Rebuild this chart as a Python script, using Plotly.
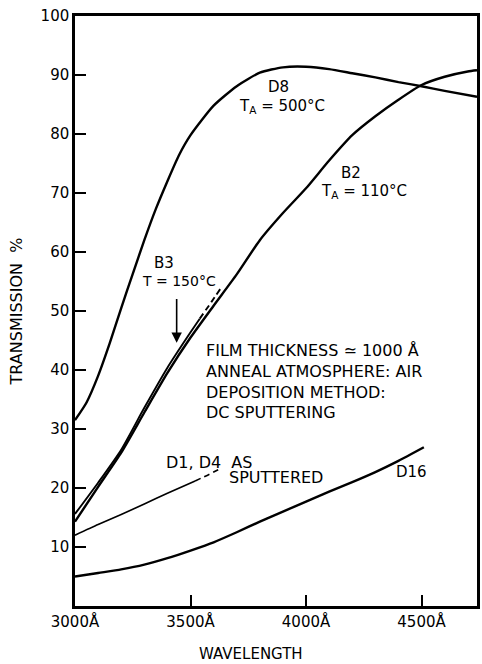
import plotly.graph_objects as go

# Optical transmission of sputtered films versus wavelength (Å)
d8_wl = [3000, 3050, 3100, 3150, 3200, 3250, 3300, 3350, 3400, 3450, 3500, 3600,
         3700, 3800, 3900, 4000, 4100, 4200, 4300, 4400, 4500, 4600, 4740]
d8_t = [31.5, 34.5, 39.0, 44.5, 50.5, 56.3, 62.0, 67.3, 72.0, 76.4, 79.8, 84.8,
        88.1, 90.4, 91.3, 91.4, 91.0, 90.3, 89.6, 88.8, 88.1, 87.3, 86.3]

b2_wl = [3000, 3100, 3200, 3300, 3400, 3500, 3600, 3700, 3800, 3900, 4000, 4100,
         4200, 4300, 4400, 4500, 4600, 4700, 4740]
b2_t = [14.3, 20.2, 26.0, 32.8, 39.5, 45.5, 50.9, 56.2, 62.0, 66.6, 70.8, 75.5,
        79.8, 83.0, 85.8, 88.3, 89.7, 90.6, 90.8]

b3_wl = [3000, 3100, 3200, 3300, 3400, 3500, 3540]
b3_t = [15.6, 20.9, 26.5, 33.6, 40.4, 46.4, 48.7]
b3_ext_wl = [3540, 3590, 3630]
b3_ext_t = [48.7, 51.5, 53.8]

d14_wl = [3000, 3100, 3200, 3300, 3400, 3520]
d14_t = [12.0, 13.8, 15.5, 17.3, 19.1, 21.2]
d14_ext_wl = [3520, 3580, 3630]
d14_ext_t = [21.2, 22.3, 23.3]

d16_wl = [3000, 3100, 3200, 3300, 3400, 3500, 3600, 3700, 3800, 3900, 4000, 4100,
          4200, 4300, 4400, 4510]
d16_t = [5.0, 5.6, 6.2, 7.0, 8.1, 9.4, 10.8, 12.5, 14.3, 16.0, 17.7, 19.4,
         21.0, 22.7, 24.6, 26.9]

x_ticks = [3000, 3500, 4000, 4500]
x_tick_text = ["3000Å", "3500Å", "4000Å", "4500Å"]
y_ticks = [10, 20, 30, 40, 50, 60, 70, 80, 90, 100]

FONT = "DejaVu Sans"
INK = "black"

fig = go.Figure()


def curve(x, y, width=2.4, dash="solid"):
    fig.add_trace(go.Scatter(
        x=x, y=y, mode="lines", showlegend=False, hoverinfo="skip",
        line=dict(color=INK, width=width, dash=dash, shape="spline", smoothing=0.6),
    ))


curve(d8_wl, d8_t)
curve(b2_wl, b2_t)
curve(b3_wl, b3_t, width=1.9)
curve(b3_ext_wl, b3_ext_t, width=1.9, dash="6px,4px")
curve(d14_wl, d14_t, width=1.6)
curve(d14_ext_wl, d14_ext_t, width=1.6, dash="6px,4px")
curve(d16_wl, d16_t)


def label(text, x, y, size=15, xanchor="center", yanchor="middle", align="center"):
    fig.add_annotation(x=x, y=y, text=text, showarrow=False, xanchor=xanchor,
                       yanchor=yanchor, align=align,
                       font=dict(family=FONT, size=size, color=INK))


label("D8", 3881, 88.0)
label("T<sub>A</sub> = 500°C", 3898, 84.7)
label("B2", 4194, 73.4)
label("T<sub>A</sub> = 110°C", 4250, 70.2)
label("B3", 3387, 58.1)
label("T = 150°C", 3451, 55.1, size=14)
label("D1, D4  AS", 3580, 24.4, size=16)
label("SPUTTERED", 3870, 21.7, size=16)
label("D16", 4456, 22.7)

notes = ["FILM THICKNESS ≃ 1000 Å", "ANNEAL ATMOSPHERE: AIR",
         "DEPOSITION METHOD:", "DC SPUTTERING"]
label("<br>".join(notes), 3558, 45.3, size=16, xanchor="left", yanchor="top",
      align="left")

# arrow pointing at the B3 curve
fig.add_annotation(x=3440, y=44.6, ax=3440, ay=52.3, axref="x", ayref="y",
                   text="", showarrow=True, arrowhead=2, arrowsize=1.3,
                   arrowwidth=1.6, arrowcolor=INK)

# horizontal axis title
fig.add_annotation(x=0.437, y=-0.081, xref="paper", yref="paper", text="WAVELENGTH",
                   showarrow=False, xanchor="center", yanchor="middle",
                   font=dict(family=FONT, size=15, color=INK))

axis_common = dict(showline=True, linecolor=INK, linewidth=2.5, mirror=True,
                   ticks="inside", ticklen=11, tickwidth=1.6, tickcolor=INK,
                   showgrid=False, zeroline=False,
                   tickfont=dict(family=FONT, size=15, color=INK))

fig.update_layout(
    width=482, height=664,
    margin=dict(l=75, r=2, t=16, b=58),
    paper_bgcolor="white", plot_bgcolor="white",
    xaxis=dict(range=[3000, 4740], tickvals=x_ticks, ticktext=x_tick_text, **axis_common),
    yaxis=dict(range=[0, 100], tickvals=y_ticks,
               title=dict(text="TRANSMISSION  %", standoff=15,
                          font=dict(family=FONT, size=16, color=INK)),
               **axis_common),
)

fig.write_html("out.html")
